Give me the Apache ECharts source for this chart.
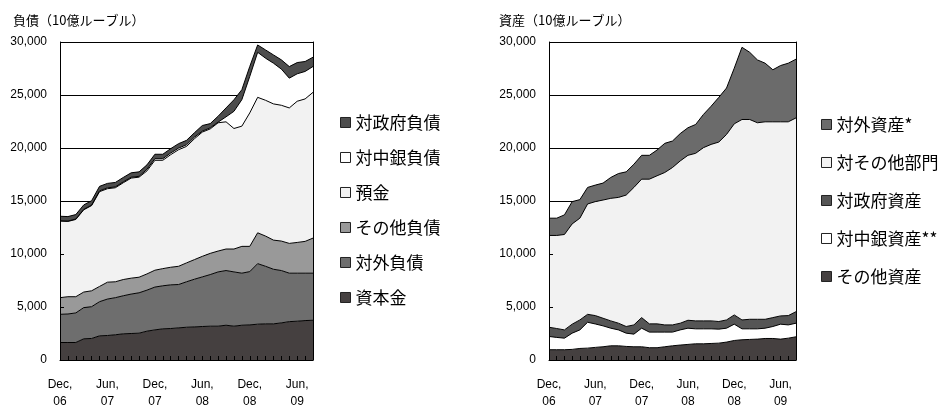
<!DOCTYPE html>
<html>
<head>
<meta charset="utf-8">
<script src="https://cdn.jsdelivr.net/npm/echarts@6/dist/echarts.min.js"></script>
<style>
    html, body { margin: 0; padding: 0; background: #fff; }
    #chart { width: 945px; height: 410px; }
</style>
</head>
<body>
<div id="chart"></div>
<script>
    // months Dec 06 .. Aug 09
    const months = ['Dec,06', 'Jan,07', 'Feb,07', 'Mar,07', 'Apr,07', 'May,07', 'Jun,07', 'Jul,07', 'Aug,07',
        'Sep,07', 'Oct,07', 'Nov,07', 'Dec,07', 'Jan,08', 'Feb,08', 'Mar,08', 'Apr,08', 'May,08', 'Jun,08',
        'Jul,08', 'Aug,08', 'Sep,08', 'Oct,08', 'Nov,08', 'Dec,08', 'Jan,09', 'Feb,09', 'Mar,09', 'Apr,09',
        'May,09', 'Jun,09', 'Jul,09', 'Aug,09'];
    const yTickLabels = ['0', '5,000', '10,000', '15,000', '20,000', '25,000', '30,000'];

    // 負債 (liabilities), bottom to top
    const capital = [1650, 1650, 1650, 2000, 2030, 2280, 2310, 2380, 2470, 2500, 2530, 2720, 2840, 2940, 2970, 3030, 3090,
        3120, 3160, 3190, 3190, 3280, 3190, 3280, 3310, 3380, 3410, 3410, 3500, 3620, 3660, 3720, 3750];
    const foreignLiab = [2660, 2690, 2790, 2940, 3000, 3220, 3440, 3500, 3590, 3720, 3810, 3870, 4040, 4060, 4120, 4090, 4290,
        4500, 4680, 4870, 5120, 5160, 5120, 4910, 5030, 5710, 5430, 5150, 4940, 4570, 4530, 4470, 4440];
    const otherLiab = [1570, 1630, 1530, 1470, 1500, 1440, 1590, 1500, 1530, 1500, 1470, 1530, 1590, 1620, 1660, 1720, 1780,
        1850, 1940, 2000, 1970, 2030, 2160, 2530, 2380, 2910, 2850, 2750, 2780, 2810, 2900, 3000, 3310];
    const deposits = [7220, 7100, 7290, 7760, 8040, 8940, 8820, 8870, 9130, 9440, 9440, 9720, 10370, 10220, 10620, 11000, 10990,
        11400, 11720, 11740, 12100, 12000, 11370, 11340, 12590, 12780, 12810, 12850, 12810, 12780, 13320, 13440, 13750];
    const cbLiab = [40, 40, 40, 40, 40, 80, 80, 80, 80, 80, 80, 150, 150, 150, 150, 150, 150,
        150, 90, 100, 60, 470, 1620, 2500, 3440, 4250, 3970, 3840, 3410, 2810, 2590, 2590, 2440];
    const govLiab = [420, 420, 420, 420, 420, 420, 420, 420, 420, 420, 420, 420, 420, 420, 420, 420, 420,
        420, 530, 400, 560, 840, 1090, 940, 940, 690, 780, 780, 875, 1090, 1060, 940, 875];

    // 資産 (assets), bottom to top
    const otherAssets = [970, 970, 970, 1000, 1090, 1120, 1190, 1250, 1340, 1340, 1280, 1250, 1250, 1160, 1160, 1250, 1340,
        1410, 1470, 1530, 1530, 1560, 1590, 1690, 1840, 1910, 1940, 1970, 2030, 2030, 1970, 2060, 2190];
    const cbAssets = [1250, 1160, 1090, 1530, 1750, 2440, 2210, 1970, 1660, 1500, 1250, 1190, 1750, 1470, 1470, 1380, 1290,
        1430, 1530, 1410, 1410, 1380, 1320, 1310, 1540, 1030, 1000, 970, 970, 1130, 1410, 1250, 1280];
    const govAssets = [870, 840, 780, 850, 940, 750, 790, 720, 690, 630, 630, 870, 1000, 780, 780, 680, 680,
        630, 750, 750, 750, 750, 720, 780, 870, 840, 900, 900, 840, 840, 780, 880, 1090];
    const otherSectors = [8660, 8780, 9000, 9460, 9600, 10410, 10750, 11150, 11560, 11870, 12400, 12970, 13060, 13650, 13970, 14380, 14850,
        15310, 15560, 15810, 16340, 16650, 16930, 17500, 18030, 18910, 18850, 18540, 18630, 18470, 18310, 18280, 18280];
    const foreignAssets = [1630, 1630, 1850, 2100, 1750, 1560, 1560, 1600, 1970, 2250, 2190, 2190, 2250, 2250, 2430, 2750, 2500,
        2580, 2600, 2720, 3130, 3600, 4220, 4380, 5250, 6810, 6340, 5930, 5530, 4910, 5310, 5530, 5540];

    const fontJp = '"Noto Sans CJK JP", sans-serif';
    const fontNum = '"Liberation Sans", Arial, sans-serif';

    function area(name, data, color, stack, gridIdx) {
        return {
            name: name,
            type: 'line',
            stack: stack,
            xAxisIndex: gridIdx,
            yAxisIndex: gridIdx * 3,
            data: data,
            color: color,
            symbol: 'none',
            showSymbol: false,
            lineStyle: { color: '#000', width: 1 },
            areaStyle: { color: color, opacity: 1 },
            emphasis: { disabled: true }
        };
    }

    function xAxis(gridIdx) {
        return {
            type: 'category',
            gridIndex: gridIdx,
            data: months,
            boundaryGap: false,
            z: 10,
            axisLine: { lineStyle: { color: '#000', width: 1 } },
            axisTick: { inside: true, interval: 0, length: 4, lineStyle: { color: '#000' } },
            axisLabel: {
                interval: 5,
                margin: 16,
                color: '#000',
                fontSize: 12,
                lineHeight: 17,
                fontFamily: fontNum,
                formatter: function (v) { return v.replace(',', ',\n'); }
            },
            splitLine: { show: false }
        };
    }

    function yAxes(gridIdx) {
        const base = { type: 'value', gridIndex: gridIdx, min: 0, max: 30000, interval: 5000 };
        return [
            Object.assign({}, base, {
                position: 'left',
                axisLine: { show: false },
                axisTick: { show: false },
                axisLabel: {
                    margin: 13, color: '#000', fontSize: 12, fontFamily: fontNum,
                    formatter: function (v) { return yTickLabels[v / 5000]; }
                },
                splitLine: { lineStyle: { color: '#000', width: 1 } }
            }),
            Object.assign({}, base, {
                position: 'left',
                z: 10,
                axisLine: { show: true, lineStyle: { color: '#000', width: 1 } },
                axisTick: { show: true, inside: true, length: 4, lineStyle: { color: '#000' } },
                axisLabel: { show: false },
                splitLine: { show: false }
            }),
            Object.assign({}, base, {
                position: 'right',
                z: 10,
                axisLine: { show: true, lineStyle: { color: '#000', width: 1 } },
                axisTick: { show: false },
                axisLabel: { show: false },
                splitLine: { show: false }
            })
        ];
    }

    const legendBase = {
        orient: 'vertical',
        icon: 'rect',
        itemWidth: 10,
        itemHeight: 10,
        selectedMode: false,
        itemStyle: { borderColor: '#222', borderWidth: 1 },
        textStyle: { fontSize: 17, color: '#000', fontFamily: fontJp }
    };

    const option = {
        animation: false,
        title: [
            { text: '負債（10億ルーブル）', left: 8, top: 9, textStyle: { fontSize: 13, fontWeight: 'normal', color: '#000', fontFamily: fontJp } },
            { text: '資産（10億ルーブル）', left: 494, top: 9, textStyle: { fontSize: 13, fontWeight: 'normal', color: '#000', fontFamily: fontJp } }
        ],
        legend: [
            Object.assign({}, legendBase, {
                left: 335, top: 109, itemGap: 18,
                data: ['対政府負債', '対中銀負債', '預金', 'その他負債', '対外負債', '資本金']
            }),
            Object.assign({}, legendBase, {
                left: 816, top: 111, itemGap: 21,
                data: ['対外資産*', '対その他部門', '対政府資産', '対中銀資産**', 'その他資産']
            })
        ],
        grid: [
            { left: 60, top: 42, width: 253, height: 320 },
            { left: 549, top: 42, width: 247, height: 320 }
        ],
        xAxis: [xAxis(0), xAxis(1)],
        yAxis: yAxes(0).concat(yAxes(1)),
        series: [
            area('資本金', capital, '#454040', 'L', 0),
            area('対外負債', foreignLiab, '#6e6e6e', 'L', 0),
            area('その他負債', otherLiab, '#999999', 'L', 0),
            area('預金', deposits, '#f2f2f2', 'L', 0),
            area('対中銀負債', cbLiab, '#ffffff', 'L', 0),
            area('対政府負債', govLiab, '#4d4d4d', 'L', 0),

            area('その他資産', otherAssets, '#454040', 'R', 1),
            area('対中銀資産**', cbAssets, '#ffffff', 'R', 1),
            area('対政府資産', govAssets, '#555555', 'R', 1),
            area('対その他部門', otherSectors, '#f2f2f2', 'R', 1),
            area('対外資産*', foreignAssets, '#6b6b6b', 'R', 1)
        ]
    };

    const chart = echarts.init(document.getElementById('chart'));
    chart.setOption(option);

    window.addEventListener('resize', function () {
        chart.resize();
    });
</script>
</body>
</html>
